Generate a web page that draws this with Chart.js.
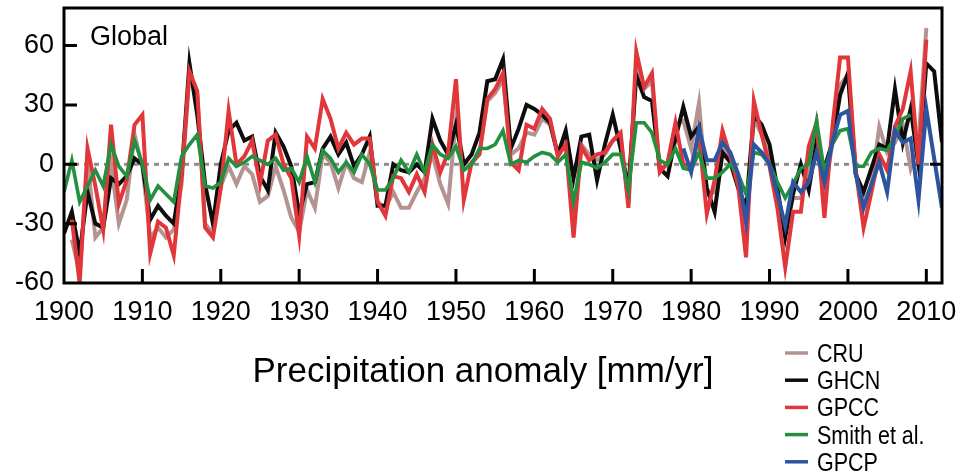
<!DOCTYPE html>
<html>
<head>
<meta charset="utf-8">
<script src="https://cdn.jsdelivr.net/npm/chart.js@4.4.1/dist/chart.umd.min.js"></script>
<style>
  html, body { margin: 0; padding: 0; background: #fff; }
  #wrap { width: 963px; height: 475px; position: relative; }
</style>
</head>
<body>
<div id="wrap"><canvas id="precipChart"></canvas></div>
<script>
// Annual global land precipitation anomalies, mm/yr
const cruStart = 1901;
const cru = [
  -38, -55, 2, -37, -32, 0, -30, -18, 15, -1,
  -37, -32, -37, -33, -10, 45, 35, -30, -35, -11,
  -1, -10, -1, -5, -19, -16, -1, -13, -27, -34,
  -13, -22, 5, 1, -12, 1, -7, -9, 6, -19,
  -22, -14, -22, -22, -14, -7, 5, -10, -20, 23,
  0, 0, 6, 32, 36, 43, 5, 8, 16, 15,
  23, 20, 5, 12, -30, 10, 5, 2, 5, 12,
  14, -20, 50, 38, 42, -3, 0, 20, 22, 8,
  31, -15, -14, 8, 4, -7, -30, 23, 15, 3,
  -15, -32, -17, -17, -5, 15, -15, 10, 40, 45,
  -5, -20, -10, 19, 6, 11, 20, -2, 11, 69
];

const ghcnStart = 1900;
const ghcn = [
  -35, -24, -45, -14, -30, -32, -7, -10, -6, 3,
  0, -28, -21, -26, -30, -5, 51, 25, -10, -30,
  0, 17, 21, 12, 14, -6, -13, 16, 9, -1,
  -25, -10, -9, 8, 14, 5, 11, -1, 5, 14,
  -21, -21, 0, -3, -4, 0, -4, 23, 12, 5,
  20, 0, 5, 16, 42, 43, 53, 8, 18, 30,
  28, 25, 21, 5, 17, -7, 14, 15, -8, 10,
  25, 8, -12, 45, 34, 32, -2, -6, 13, 29,
  14, 19, -12, -24, 6, 1, -12, -22, 25, 20,
  10, -12, -37, -15, 0, -13, 11, -2, 11, 35,
  46, -5, -14, -2, 10, 8, 38, 11, 28, 0,
  51, 47, 11
];

const gpccStart = 1901;
const gpcc = [
  -28, -60, 8, -11, -33, 20, -20, -8, 20, 25,
  -45, -29, -32, -46, -6, 47, 37, -32, -37, -12,
  27, 0, 4, 12, -10, 12, 15, 0, -7, -36,
  14, 8, 33, 23, 8, 16, 10, 13, 13, -19,
  -26, -6, -7, -14, -5, -14, 10, -4, 6, 43,
  -18, 1, 5, 33, 38, 46, 1, -3, 20, 18,
  28, 23, 4, 10, -37, 9, 2, 5, 6, 12,
  16, -22, 57, 39, 46, -4, 1, 21, 0, -1,
  14, -25, -8, 17, 4, -11, -47, 32, 15, -1,
  -22, -52, -24, -24, 9, 21, -27, 18, 54, 54,
  -3, -32, -14, 5, -3, 19, 28, 47, 0, 63
];

const smithStart = 1900;
const smith = [
  -14, 2, -19, -11, -3, -11, 10, -1, -6, 12,
  0, -18, -11, -15, -19, 4, 10, 15, -11, -12,
  -9, 3, -1, 1, 4, 2, 0, 3, -3, -2,
  -9, 4, -9, 7, 3, -4, 1, -4, 5, 0,
  -13, -13, -7, 2, -4, 5, -4, 10, 5, 3,
  9, -3, 0, 8, 8, 10, 17, 0, 2, 1,
  4, 6, 5, 1, 5, -19, 1, 0, -2, 1,
  5, 5, -13, 21, 21, 16, 2, 0, 8, -2,
  -3, 6, -7, -7, -4, 0, -5, -15, 6, 5,
  0, -9, -17, -10, -2, 0, 22, -4, 10, 17,
  18, -1, -1, 6, 8, 7, 14, 23, 25
];

const gpcpStart = 1979;
const gpcp = [
  8, -4, 18, 2, 2, 11, 6, -5, -29, 10,
  6, 0, -15, -31, -9, -14, -9, 6, -9, 11,
  25, 27, -5, -22, -10, 1, -14, 17, 11, 13,
  -18, 28, 3, -22
];

const xTicks = [1900, 1910, 1920, 1930, 1940, 1950, 1960, 1970, 1980, 1990, 2000, 2010];
const yTicks = [-60, -30, 0, 30, 60];

const FONT = '"Liberation Sans", Arial, Helvetica, sans-serif';

const toPoints = (start, values) => values.map((v, i) => ({ x: start + i, y: v }));

function series(label, start, values, color, width, order) {
  return {
    label,
    data: toPoints(start, values),
    borderColor: color,
    backgroundColor: color,
    borderWidth: width,
    pointRadius: 0,
    tension: 0,
    fill: false,
    order
  };
}

const datasets = [
  series('CRU', cruStart, cru, '#b39492', 4, 5),
  series('GHCN', ghcnStart, ghcn, '#0d0d0d', 4, 4),
  series('GPCC', gpccStart, gpcc, '#e1363a', 4, 3),
  series('Smith et al.', smithStart, smith, '#22903f', 3.6, 2),
  series('GPCP', gpcpStart, gpcp, '#2d559f', 4, 1),
  {
    // dotted zero reference line
    data: [{ x: xTicks[0], y: 0 }, { x: 2012, y: 0 }],
    borderColor: '#8c8c8c',
    borderWidth: 3,
    borderDash: [5, 5],
    pointRadius: 0,
    order: 6,
    isZeroLine: true
  }
];

// frame, inward ticks, panel label, axis title and the stacked legend
const decorations = {
  id: 'decorations',
  afterDatasetsDraw(chart) {
    const { ctx, chartArea: a, scales: { x, y } } = chart;
    ctx.save();
    ctx.strokeStyle = '#000';
    ctx.lineWidth = 3;
    ctx.strokeRect(a.left, a.top, a.right - a.left, a.bottom - a.top);
    ctx.beginPath();
    xTicks.slice(1).forEach(v => {
      const px = x.getPixelForValue(v);
      ctx.moveTo(px, a.bottom);
      ctx.lineTo(px, a.bottom - 14);
    });
    yTicks.slice(1).forEach(v => {
      const py = y.getPixelForValue(v);
      ctx.moveTo(a.left, py);
      ctx.lineTo(a.left + 13, py);
    });
    const zy = y.getPixelForValue(0);
    ctx.moveTo(a.right, zy);
    ctx.lineTo(a.right - 12, zy);
    ctx.stroke();
    ctx.restore();
  },
  afterDraw(chart) {
    const { ctx } = chart;
    ctx.save();
    ctx.fillStyle = '#000';
    ctx.textBaseline = 'alphabetic';

    ctx.font = '27px ' + FONT;
    ctx.textAlign = 'left';
    ctx.fillText('Global', 90, 45);

    ctx.font = '35px ' + FONT;
    ctx.textAlign = 'center';
    ctx.fillText('Precipitation anomaly [mm/yr]', 483, 382);

    ctx.textAlign = 'left';
    ctx.font = '25px ' + FONT;
    chart.data.datasets.filter(d => !d.isZeroLine).forEach((d, i) => {
      const rowY = 353 + i * 27.2;
      ctx.strokeStyle = d.borderColor;
      ctx.lineWidth = 3.5;
      ctx.beginPath();
      ctx.moveTo(785, rowY);
      ctx.lineTo(808, rowY);
      ctx.stroke();
      ctx.save();
      ctx.translate(817, rowY + 9);
      ctx.scale(0.86, 1);
      ctx.fillText(d.label, 0, 0);
      ctx.restore();
    });
    ctx.restore();
  }
};

new Chart(document.getElementById('precipChart').getContext('2d'), {
  type: 'line',
  data: { datasets },
  options: {
    responsive: true,
    maintainAspectRatio: false,
    animation: false,
    layout: { padding: { top: 8, right: 21, left: 0, bottom: 0 } },
    plugins: {
      legend: { display: false },
      tooltip: { enabled: false }
    },
    scales: {
      x: {
        type: 'linear',
        min: 1900,
        max: 2012,
        grid: { display: false, drawTicks: false },
        border: { display: false },
        afterBuildTicks: s => { s.ticks = xTicks.map(v => ({ value: v })); },
        afterFit: s => { s.height = 192; s.paddingLeft = 0; s.paddingRight = 0; },
        ticks: {
          color: '#000',
          font: { family: FONT, size: 27 },
          padding: 13,
          maxRotation: 0,
          autoSkip: false,
          callback: v => String(v)
        }
      },
      y: {
        min: -60,
        max: 79,
        grid: { display: false, drawTicks: false },
        border: { display: false },
        afterBuildTicks: s => { s.ticks = yTicks.map(v => ({ value: v })); },
        afterFit: s => { s.width = 64; s.paddingTop = 0; s.paddingBottom = 0; },
        ticks: {
          color: '#000',
          font: { family: FONT, size: 27 },
          padding: 10
        }
      }
    }
  },
  plugins: [decorations]
});
</script>
</body>
</html>
